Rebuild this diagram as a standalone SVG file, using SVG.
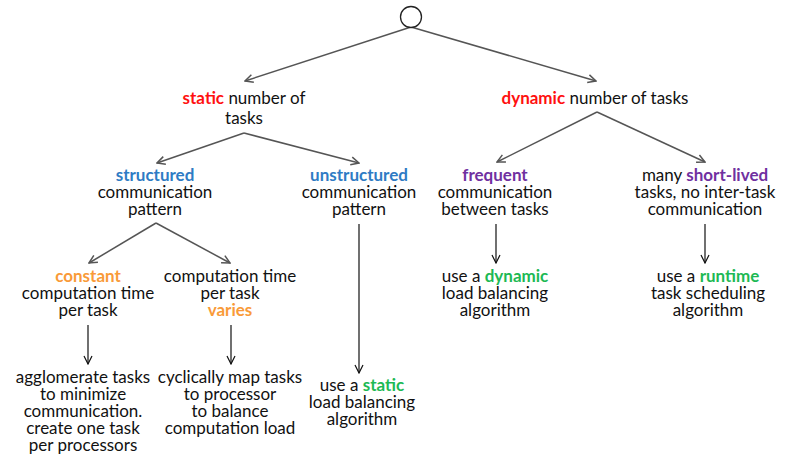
<svg xmlns="http://www.w3.org/2000/svg" width="786" height="458" viewBox="0 0 786 458">
<style>
text{font-family:Lato,"Liberation Sans",sans-serif;font-size:17px;fill:#111;text-anchor:middle}
.b{font-weight:bold}
.red{fill:#FF1010}
.blue{fill:#2E7BC4}
.orange{fill:#F99A38}
.purple{fill:#7030A0}
.green{fill:#1DB954}
.g{stroke:#555;stroke-width:1.5;fill:none}
.k{stroke:#111;stroke-width:1.2;fill:none}
</style>
<defs>
<marker id="ag" viewBox="0 0 10 10" refX="9" refY="5" markerWidth="10" markerHeight="10" markerUnits="userSpaceOnUse" orient="auto">
<path d="M1,1 L9,5 L1,9" fill="none" stroke="#555" stroke-width="1.5"/>
</marker>
<marker id="ak" viewBox="0 0 10 10" refX="9" refY="5" markerWidth="10" markerHeight="10" markerUnits="userSpaceOnUse" orient="auto">
<path d="M1,1 L9,5 L1,9" fill="none" stroke="#111" stroke-width="1.2"/>
</marker>
</defs>
<rect width="786" height="458" fill="#fff"/>
<g id="connectors">
<path class="g" d="M411,27 L245,81" marker-end="url(#ag)"/>
<path class="g" d="M411,27 L596,81" marker-end="url(#ag)"/>
<path class="g" d="M244,133 L157,163" marker-end="url(#ag)"/>
<path class="g" d="M244,133 L359,163" marker-end="url(#ag)"/>
<path class="g" d="M597,112 L497,162" marker-end="url(#ag)"/>
<path class="g" d="M597,112 L705,162" marker-end="url(#ag)"/>
<path class="g" d="M156,223 L89,263" marker-end="url(#ag)"/>
<path class="g" d="M156,223 L230,263" marker-end="url(#ag)"/>
<path class="k" d="M88,325 L88,364" marker-end="url(#ak)"/>
<path class="k" d="M231,325 L231,364" marker-end="url(#ak)"/>
<path class="k" d="M359,224 L359,373" marker-end="url(#ak)"/>
<path class="k" d="M496,224 L496,263" marker-end="url(#ak)"/>
<path class="k" d="M705,224 L705,263" marker-end="url(#ak)"/>
</g>
<g id="root"><circle cx="411" cy="17" r="10.5" fill="#fff" stroke="#222" stroke-width="1.3"/></g>
<g id="static">
<text x="244" y="104"><tspan class="b red">static</tspan> number of</text>
<text x="244" y="124">tasks</text>
</g>
<g id="dynamic">
<text x="595" y="104"><tspan class="b red">dynamic</tspan> number of tasks</text>
</g>
<g id="structured">
<text x="155" y="181" class="b blue">structured</text>
<text x="155" y="198">communication</text>
<text x="155" y="215">pattern</text>
</g>
<g id="unstructured">
<text x="359" y="181" class="b blue">unstructured</text>
<text x="359" y="198">communication</text>
<text x="359" y="215">pattern</text>
</g>
<g id="frequent">
<text x="495" y="181" class="b purple">frequent</text>
<text x="495" y="198">communication</text>
<text x="495" y="215">between tasks</text>
</g>
<g id="shortlived">
<text x="705" y="181">many <tspan class="b purple">short-lived</tspan></text>
<text x="705" y="198">tasks, no inter-task</text>
<text x="705" y="215">communication</text>
</g>
<g id="constant">
<text x="88" y="282" class="b orange">constant</text>
<text x="88" y="299">computation time</text>
<text x="88" y="316">per task</text>
</g>
<g id="varies">
<text x="230" y="282">computation time</text>
<text x="230" y="299">per task</text>
<text x="230" y="316" class="b orange">varies</text>
</g>
<g id="dynamic-lb">
<text x="495" y="282">use a <tspan class="b green">dynamic</tspan></text>
<text x="495" y="299">load balancing</text>
<text x="495" y="316">algorithm</text>
</g>
<g id="runtime">
<text x="708" y="282">use a <tspan class="b green">runtime</tspan></text>
<text x="708" y="299">task scheduling</text>
<text x="708" y="316">algorithm</text>
</g>
<g id="agglomerate">
<text x="83" y="383">agglomerate tasks</text>
<text x="83" y="400">to minimize</text>
<text x="83" y="417">communication.</text>
<text x="83" y="434">create one task</text>
<text x="83" y="451">per processors</text>
</g>
<g id="cyclic">
<text x="230" y="383">cyclically map tasks</text>
<text x="230" y="400">to processor</text>
<text x="230" y="417">to balance</text>
<text x="230" y="434">computation load</text>
</g>
<g id="static-lb">
<text x="362" y="391">use a <tspan class="b green">static</tspan></text>
<text x="362" y="408">load balancing</text>
<text x="362" y="425">algorithm</text>
</g>
</svg>
